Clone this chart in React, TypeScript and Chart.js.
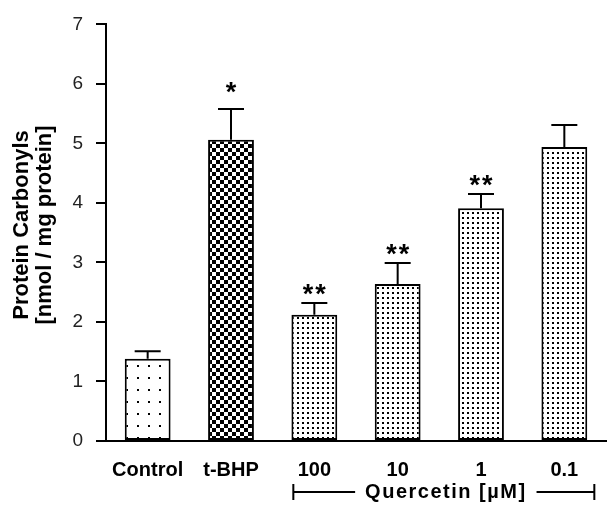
import React, { useEffect, useRef } from "react";
import { Chart, registerables } from "chart.js";

Chart.register(...registerables);

const categories = ["Control", "t-BHP", "100", "10", "1", "0.1"];
const means = [1.38, 5.06, 2.12, 2.64, 3.91, 4.94];
const errors = [0.13, 0.52, 0.2, 0.35, 0.24, 0.37];
const marks = ["", "*", "**", "**", "**", ""];
const patternKinds = ["sparse", "checker", "dense", "dense", "dense", "dense"];
const yTitle = ["Protein Carbonyls", "[nmol / mg protein]"];
const groupLabel = "Quercetin [\u00B5M]";

const FONT = "Arial, 'Liberation Sans', sans-serif";

function makePattern(kind: string): CanvasPattern | string {
  const c = document.createElement("canvas");
  const ctx = c.getContext("2d")!;
  if (kind === "checker") {
    c.width = 8; c.height = 8;
    ctx.fillStyle = "#fff"; ctx.fillRect(0, 0, 8, 8);
    ctx.fillStyle = "#000";
    ctx.fillRect(0, 0, 4, 4); ctx.fillRect(4, 4, 4, 4);
  } else if (kind === "sparse") {
    c.width = 11; c.height = 12;
    ctx.fillStyle = "#fff"; ctx.fillRect(0, 0, 11, 12);
    ctx.fillStyle = "#000";
    ctx.fillRect(5, 5, 2, 2);
  } else {
    c.width = 5; c.height = 5;
    ctx.fillStyle = "#fff"; ctx.fillRect(0, 0, 5, 5);
    ctx.fillStyle = "#000";
    ctx.fillRect(2, 2, 2, 2);
  }
  return ctx.createPattern(c, "repeat") || "#fff";
}

const errorPlugin = {
  id: "errs",
  afterDatasetsDraw(chart: any) {
    const ctx = chart.ctx;
    const meta = chart.getDatasetMeta(0);
    const y = chart.scales.y;
    ctx.save();
    ctx.strokeStyle = "#000";
    ctx.lineWidth = 2;
    ctx.fillStyle = "#000";
    meta.data.forEach((bar: any, i: number) => {
      const x = bar.x;
      const yTop = y.getPixelForValue(means[i]);
      const yErr = y.getPixelForValue(means[i] + errors[i]);
      ctx.beginPath();
      ctx.moveTo(x, yTop);
      ctx.lineTo(x, yErr);
      ctx.moveTo(x - 13, yErr);
      ctx.lineTo(x + 13, yErr);
      ctx.stroke();
      if (marks[i]) {
        ctx.font = `bold 27px ${FONT}`;
        (ctx as any).letterSpacing = "2px";
        ctx.textAlign = "center";
        ctx.textBaseline = "alphabetic";
        const lift = marks[i].length === 1 ? 8 : 0;
        ctx.fillText(marks[i], x + 1, yErr - lift);
        (ctx as any).letterSpacing = "0px";
      }
    });
    // y title
    ctx.save();
    ctx.translate(22, 225);
    ctx.rotate(-Math.PI / 2);
    ctx.font = `bold 22px ${FONT}`;
    ctx.textAlign = "center";
    ctx.textBaseline = "middle";
    ctx.fillText(yTitle[0], 0, 0);
    ctx.fillText(yTitle[1], 0, 23);
    ctx.restore();
    // group bracket
    const xs = chart.scales.x;
    const x0 = xs.getPixelForValue(2) - 21;
    const x1 = xs.getPixelForValue(5) + 30;
    const yb = 492;
    ctx.font = `bold 20px ${FONT}`;
    (ctx as any).letterSpacing = "1.5px";
    const mid = (x0 + x1) / 2 + 2;
    const tw = ctx.measureText(groupLabel).width;
    ctx.textAlign = "center";
    ctx.textBaseline = "middle";
    ctx.fillText(groupLabel, mid, yb);
    ctx.beginPath();
    ctx.moveTo(x0, yb); ctx.lineTo(mid - tw / 2 - 10, yb);
    ctx.moveTo(mid + tw / 2 + 10, yb); ctx.lineTo(x1, yb);
    ctx.moveTo(x0, yb - 8); ctx.lineTo(x0, yb + 8);
    ctx.moveTo(x1, yb - 8); ctx.lineTo(x1, yb + 8);
    ctx.stroke();
    ctx.restore();
  },
};

export default function App() {
  const ref = useRef<HTMLCanvasElement>(null);
  useEffect(() => {
    document.body.style.margin = "0";
    const chart = new Chart(ref.current!, {
      type: "bar",
      data: {
        labels: categories,
        datasets: [
          {
            data: means,
            backgroundColor: patternKinds.map(makePattern) as any,
            borderColor: "#000",
            borderWidth: 2,
            borderSkipped: false,
            barPercentage: 0.55,
            categoryPercentage: 1,
          },
        ],
      },
      options: {
        animation: false,
        responsive: false,
        maintainAspectRatio: false,
        layout: { padding: { left: 0, right: 2, top: 14, bottom: 6 } },
        plugins: { legend: { display: false }, tooltip: { enabled: false } },
        scales: {
          x: {
            grid: { display: false, drawTicks: false },
            border: { display: true, color: "#000", width: 2 },
            ticks: {
              color: "#000",
              padding: 17,
              font: { family: FONT, size: 20, weight: "bold" },
            },
          },
          y: {
            min: 0,
            max: 7,
            afterFit: (scale: any) => {
              scale.width = 106;
            },
            grid: { drawOnChartArea: false, drawTicks: true, tickLength: 10, color: "#000", lineWidth: 2 },
            border: { display: true, color: "#000", width: 2 },
            ticks: {
              stepSize: 1,
              color: "#222",
              padding: 13,
              font: { family: FONT, size: 19 },
            },
          },
        },
      },
      plugins: [errorPlugin],
    });
    return () => chart.destroy();
  }, []);
  return (
    <div style={{ width: 608, height: 505 }}>
      <canvas ref={ref} width={608} height={505} style={{ display: "block" }} />
    </div>
  );
}
